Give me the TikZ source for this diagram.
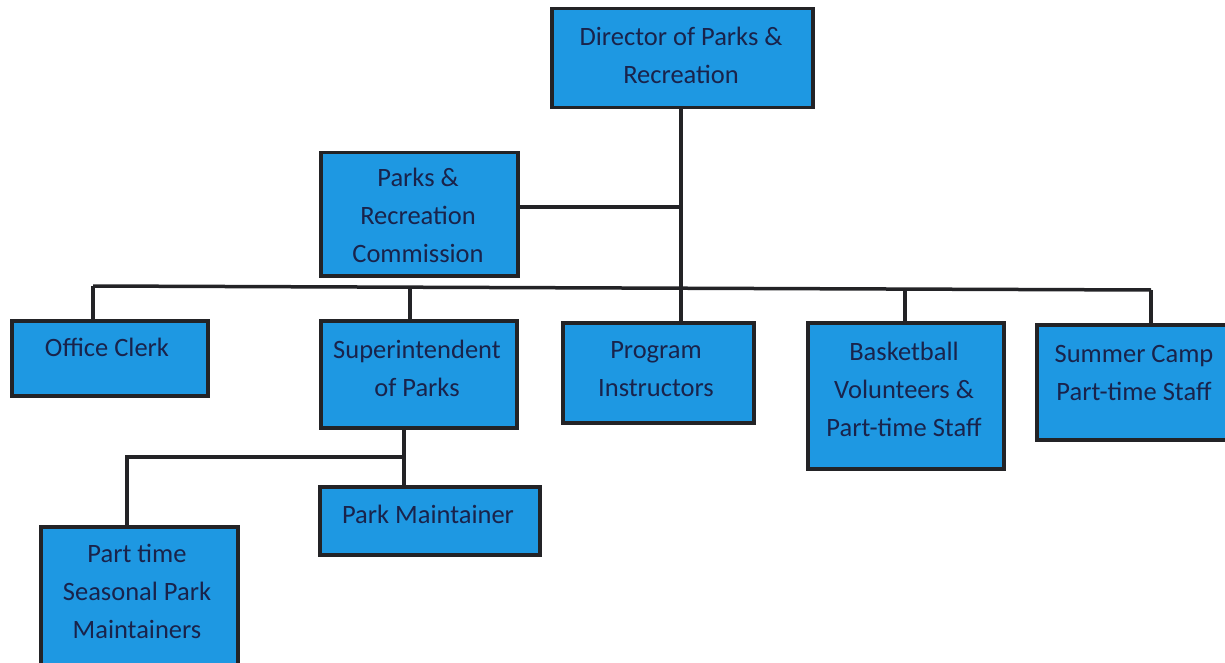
\documentclass[tikz,border=0pt]{standalone}
\usepackage{fontspec}
\setmainfont{Carlito}
\definecolor{boxfill}{RGB}{30,152,226}
\definecolor{edge}{RGB}{35,35,38}
\definecolor{txtc}{RGB}{25,35,75}
\begin{document}
\begin{tikzpicture}[x=1pt,y=-1pt,
  box/.style={draw=edge,fill=boxfill,line width=3.5pt,rectangle,inner sep=0pt},
  txt/.style={text=txtc,align=center,font=\fontsize{26.5}{38}\selectfont,inner sep=0pt},
  conn/.style={draw=edge,line width=3.5pt}]
\useasboundingbox (0,0) rectangle (1225,663);
% boxes by corners
\newcommand{\mybox}[5]{\node[box,minimum width={#4-#2},minimum height={#5-#3},anchor=north west] (#1) at (#2,#3) {};}
\mybox{dir}{550}{7}{811}{106}
\mybox{com}{319}{151}{516}{274}
\mybox{oc}{10}{319}{206}{394}
\mybox{sup}{319}{319}{515}{426}
\mybox{pi}{561}{321}{752}{421}
\mybox{bb}{806}{321}{1002}{467}
\mybox{sc}{1035}{323}{1227}{438}
\mybox{pm}{318}{485}{538}{553}
\mybox{pt}{39}{525}{236}{666}
% texts
\node[txt] (tdir) at (681,55) {Director of Parks \&\\Recreation};
\node[txt] (tcom) at (418,215) {Parks \&\\Recreation\\Commission};
\node[txt] (toc) at (107,347) {Office Clerk};
\node[txt] (tsup) at (417,368) {Superintendent\\of Parks};
\node[txt] (tpi) at (656,369) {Program\\Instructors};
\node[txt] (tbb) at (904,389) {Basketball\\Volunteers \&\\Part-time Staff};
\node[txt] (tsc) at (1134,373) {Summer Camp\\Part-time Staff};
\node[txt] (tpm) at (428,514) {Park Maintainer};
\node[txt] (tpt) at (137,591) {Part time\\Seasonal Park\\Maintainers};
% connectors
\coordinate (busL) at (93,286);
\coordinate (busR) at (1151,290);
\coordinate (jc) at (681,207);
\coordinate (js) at (404,457);
\draw[conn] (dir.south -| 681,0) -- (pi.north -| 681,0);
\draw[conn] (com.east |- jc) -- (jc);
\draw[conn] (busL) -- (busR);
\draw[conn] (oc.north -| busL) -- (busL);
\draw[conn] (sup.north -| 410,0) -- (410,287);
\draw[conn] (bb.north -| 905,0) -- (905,289);
\draw[conn] (sc.north -| busR) -- (busR);
\draw[conn] (sup.south -| js) -- (pm.north -| js);
\draw[conn] (js) -- (127,457) -- (pt.north -| 127,0);
\end{tikzpicture}
\end{document}
